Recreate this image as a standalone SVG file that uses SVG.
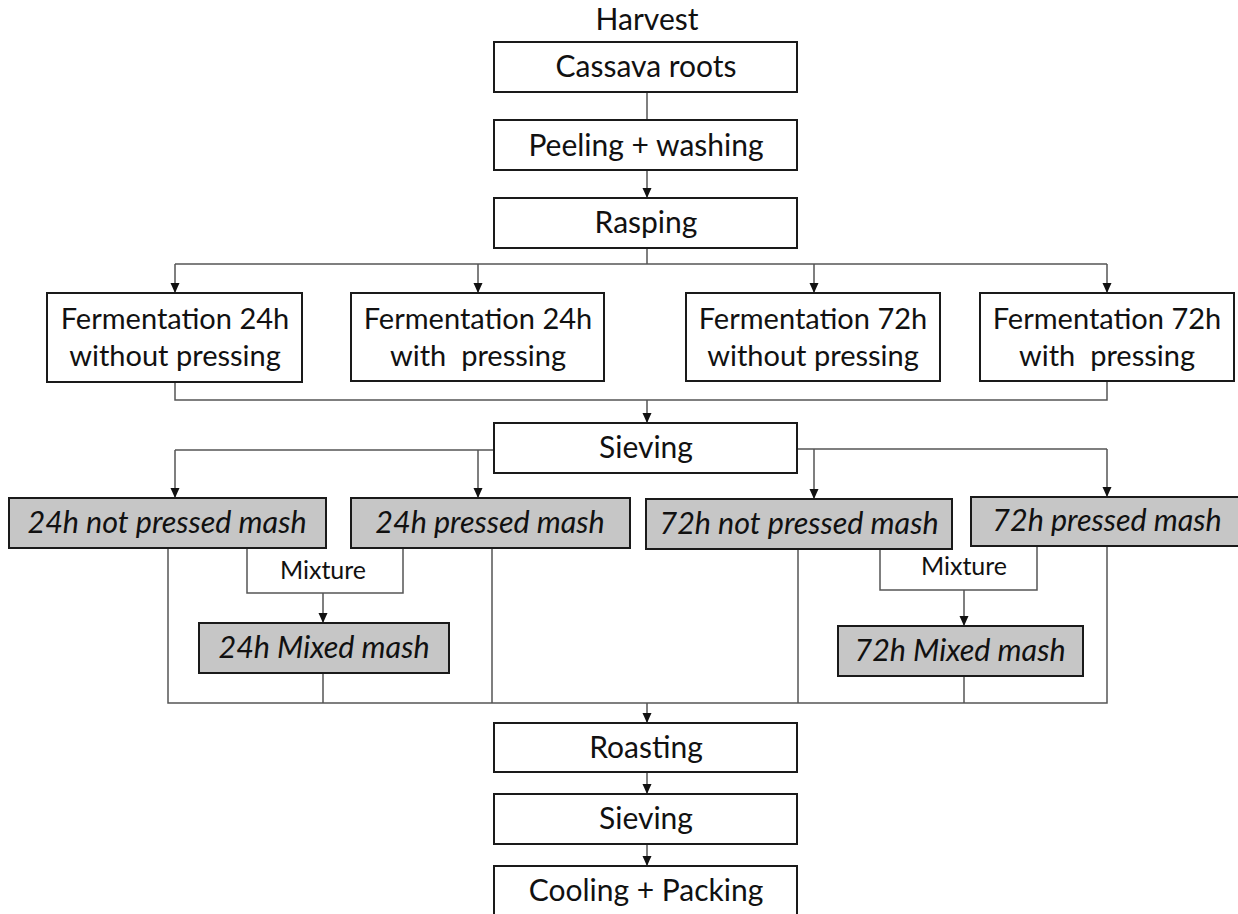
<svg xmlns="http://www.w3.org/2000/svg" width="1238" height="914" viewBox="0 0 1238 914">
<style>
.box{fill:#ffffff;stroke:#1a1a1a;stroke-width:2}
.mash{fill:#c6c6c6;stroke:#1a1a1a;stroke-width:2}
.t{font-family:Lato,"Liberation Sans",sans-serif;font-size:30px;fill:#111;text-anchor:middle}
.f{font-size:29px}
.it{font-style:italic;font-size:30.5px}
.mx{font-size:25px}
.c{fill:none;stroke:#555;stroke-width:1.5}
.a{marker-end:url(#arr)}
</style>
<defs>
<marker id="arr" markerUnits="userSpaceOnUse" markerWidth="10" markerHeight="10" refX="10" refY="5" orient="auto" viewBox="0 0 10 10">
<path d="M0,0.5 L10,5 L0,9.5 z" fill="#111"/>
</marker>
</defs>
<rect width="1238" height="914" fill="#ffffff"/>
<g id="connectors">
<path class="c" d="M647,92 V120"/>
<path class="c a" d="M647,170 V198"/>
<path class="c" d="M647,248 V264 M175,264 H1107"/>
<path class="c a" d="M175,264 V293"/>
<path class="c a" d="M478,264 V293"/>
<path class="c a" d="M814,264 V293"/>
<path class="c a" d="M1107,264 V293"/>
<path class="c" d="M175,382 V400 H1107 V381"/>
<path class="c a" d="M647,400 V423"/>
<path class="c" d="M494,450 H175"/>
<path class="c a" d="M175,450 V498"/>
<path class="c a" d="M478,450 V498"/>
<path class="c" d="M797,449 H1107"/>
<path class="c a" d="M814,449 V499"/>
<path class="c a" d="M1107,449 V497"/>
<path class="c" d="M247,548 V593 H403 V548"/>
<path class="c a" d="M323,593 V623"/>
<path class="c" d="M880,549 V590 H1037 V546"/>
<path class="c a" d="M964,590 V626"/>
<path class="c" d="M168,548 V703 H1107 V546"/>
<path class="c" d="M492,548 V703 M798,549 V703 M323,673 V703 M964,676 V703"/>
<path class="c a" d="M647,703 V723"/>
<path class="c a" d="M647,772 V794"/>
<path class="c a" d="M647,844 V866"/>
</g>
<g id="harvest"><text class="t" x="647" y="30">Harvest</text></g>
<g id="cassava"><rect class="box" x="494" y="42" width="303" height="50"/><text class="t" x="646" y="77">Cassava roots</text></g>
<g id="peeling"><rect class="box" x="494" y="120" width="303" height="50"/><text class="t" x="646" y="156">Peeling + washing</text></g>
<g id="rasping"><rect class="box" x="494" y="198" width="303" height="50"/><text class="t" x="646" y="233">Rasping</text></g>
<g id="f24np"><rect class="box" x="47" y="293" width="255" height="89"/><text class="t f" x="175" y="329">Fermentation 24h</text><text class="t f" x="175" y="366">without pressing</text></g>
<g id="f24p"><rect class="box" x="351" y="293" width="253" height="88"/><text class="t f" x="478" y="329">Fermentation 24h</text><text class="t f" x="478" y="366" xml:space="preserve">with  pressing</text></g>
<g id="f72np"><rect class="box" x="686" y="293" width="254" height="88"/><text class="t f" x="813" y="329">Fermentation 72h</text><text class="t f" x="813" y="366">without pressing</text></g>
<g id="f72p"><rect class="box" x="980" y="293" width="254" height="88"/><text class="t f" x="1107" y="329">Fermentation 72h</text><text class="t f" x="1107" y="366" xml:space="preserve">with  pressing</text></g>
<g id="sieving1"><rect class="box" x="494" y="423" width="303" height="50"/><text class="t" x="646" y="458">Sieving</text></g>
<g id="m24np"><rect class="mash" x="9" y="498" width="317" height="50"/><text class="t it" x="167" y="533">24h not pressed mash</text></g>
<g id="m24p"><rect class="mash" x="351" y="498" width="279" height="50"/><text class="t it" x="490" y="533">24h pressed mash</text></g>
<g id="m72np"><rect class="mash" x="646" y="499" width="306" height="50"/><text class="t it" x="799" y="534">72h not pressed mash</text></g>
<g id="m72p"><rect class="mash" x="971" y="497" width="270" height="49"/><text class="t it" x="1107" y="531">72h pressed mash</text></g>
<g id="mix24"><text class="t mx" x="323" y="579">Mixture</text></g>
<g id="mix72"><text class="t mx" x="964" y="575">Mixture</text></g>
<g id="mm24"><rect class="mash" x="199" y="623" width="250" height="50"/><text class="t it" x="324" y="658">24h Mixed mash</text></g>
<g id="mm72"><rect class="mash" x="838" y="626" width="245" height="50"/><text class="t it" x="960" y="661">72h Mixed mash</text></g>
<g id="roasting"><rect class="box" x="494" y="723" width="303" height="49"/><text class="t" x="646" y="758">Roasting</text></g>
<g id="sieving2"><rect class="box" x="494" y="794" width="303" height="50"/><text class="t" x="646" y="829">Sieving</text></g>
<g id="cooling"><rect class="box" x="494" y="866" width="303" height="52"/><text class="t" x="646" y="901">Cooling + Packing</text></g>
</svg>
